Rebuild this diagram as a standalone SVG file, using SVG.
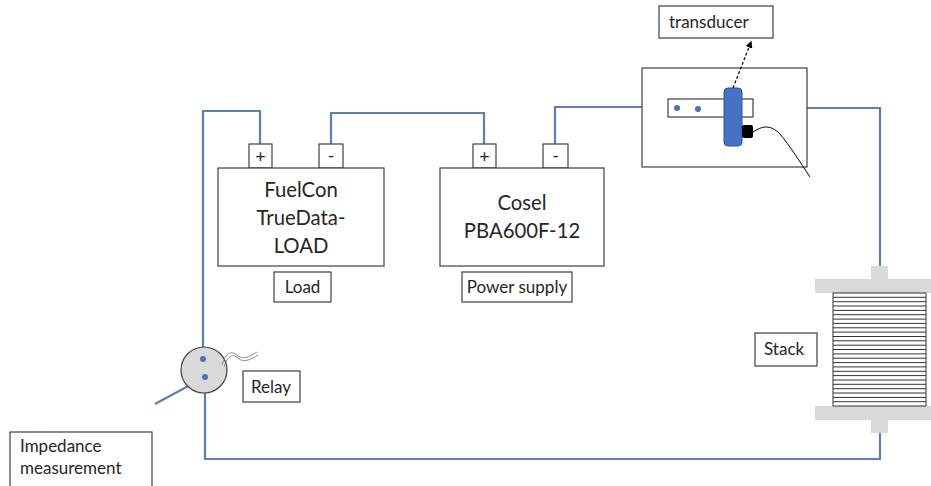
<svg xmlns="http://www.w3.org/2000/svg" width="931" height="486" viewBox="0 0 931 486">
  <style>
    .box { fill: #ffffff; stroke: #404040; stroke-width: 1.2; }
    .wire { fill: none; stroke: #5b80b8; stroke-width: 2.2; }
    .txt { font-family: Lato, "Liberation Sans", sans-serif; fill: #262626; }
    .big { font-size: 20.3px; text-anchor: middle; }
    .term { font-size: 18px; text-anchor: middle; }
    .lbl { font-size: 17px; text-anchor: middle; }
    .lbl-l { font-size: 17px; }
    .plate { fill: #d9d9d9; }
    .cell { stroke: #333333; stroke-width: 1; }
  </style>
  <defs>
    <marker id="arrow" viewBox="0 0 10 10" refX="8" refY="5" markerWidth="6" markerHeight="6" orient="auto">
      <path d="M0,0 L10,5 L0,10 z" fill="#000"/>
    </marker>
  </defs>
  <rect width="931" height="486" fill="#ffffff"/>

  <!-- connectors -->
  <g id="connectors">
    <path class="wire" d="M260,144 V111 H203 V359"/>
    <path class="wire" d="M331,144 V113 H484 V144"/>
    <path class="wire" d="M555,144 V107 H668"/>
    <path class="wire" d="M753,108 H880 V266"/>
    <path class="wire" d="M880,433 V459 H205 V377"/>
    <path class="wire" d="M205,377 L155,404"/>
  </g>

  <!-- electronic load -->
  <g id="load">
    <rect class="box" x="249" y="144" width="23" height="24"/>
    <rect class="box" x="319" y="144" width="24" height="24"/>
    <text class="txt term" x="260.5" y="163">+</text>
    <text class="txt term" x="331" y="162">-</text>
    <rect class="box" x="218" y="168" width="166" height="98"/>
    <text class="txt big" x="301" y="197">FuelCon</text>
    <text class="txt big" x="301" y="225">TrueData-</text>
    <text class="txt big" x="301" y="253">LOAD</text>
  </g>
  <g id="load-label">
    <rect class="box" x="274" y="272" width="57" height="30"/>
    <text class="txt lbl" x="302.5" y="293">Load</text>
  </g>

  <!-- power supply -->
  <g id="power-supply">
    <rect class="box" x="473" y="144" width="23" height="24"/>
    <rect class="box" x="543" y="144" width="25" height="24"/>
    <text class="txt term" x="484.5" y="163">+</text>
    <text class="txt term" x="555.5" y="162">-</text>
    <rect class="box" x="440" y="168" width="164" height="98"/>
    <text class="txt big" x="522" y="210">Cosel</text>
    <text class="txt big" x="522" y="238">PBA600F-12</text>
  </g>
  <g id="power-supply-label">
    <rect class="box" x="462" y="272" width="110" height="30"/>
    <text class="txt lbl" x="517" y="293">Power supply</text>
  </g>

  <!-- current transducer -->
  <g id="transducer">
    <rect class="box" x="642" y="68" width="165" height="99"/>
    <rect class="box" x="668" y="99" width="85" height="18"/>
    <circle cx="677" cy="108" r="3" fill="#4a72b8"/>
    <circle cx="698" cy="109" r="3" fill="#4a72b8"/>
    <rect x="724" y="88" width="18" height="58" rx="4" fill="#4472c4" stroke="#2f5597" stroke-width="1"/>
    <rect x="742" y="125" width="11" height="13" rx="2" fill="#000000"/>
    <path d="M753,132 C762,126 770,124 780,134 C790,146 800,162 810,177" fill="none" stroke="#000" stroke-width="1"/>
    <path d="M733,88 L751,42" fill="none" stroke="#000" stroke-width="1.2" stroke-dasharray="3,2" marker-end="url(#arrow)"/>
  </g>
  <g id="transducer-label">
    <rect class="box" x="659" y="6" width="114" height="32"/>
    <text class="txt lbl-l" x="669" y="28">transducer</text>
  </g>

  <!-- fuel cell stack -->
  <g id="stack">
    <rect class="plate" x="871" y="266" width="17" height="14"/>
    <rect class="plate" x="815" y="279" width="116" height="14"/>
    <rect class="plate" x="815" y="406" width="116" height="14"/>
    <rect class="plate" x="871" y="419" width="17" height="14"/>
    <rect x="833" y="293" width="93" height="113" fill="#ffffff" stroke="#333" stroke-width="1"/>
    <g class="cell">
      <line x1="833" y1="297.3" x2="926" y2="297.3"/>
      <line x1="833" y1="301.7" x2="926" y2="301.7"/>
      <line x1="833" y1="306" x2="926" y2="306"/>
      <line x1="833" y1="310.4" x2="926" y2="310.4"/>
      <line x1="833" y1="314.7" x2="926" y2="314.7"/>
      <line x1="833" y1="319.1" x2="926" y2="319.1"/>
      <line x1="833" y1="323.4" x2="926" y2="323.4"/>
      <line x1="833" y1="327.8" x2="926" y2="327.8"/>
      <line x1="833" y1="332.1" x2="926" y2="332.1"/>
      <line x1="833" y1="336.5" x2="926" y2="336.5"/>
      <line x1="833" y1="340.8" x2="926" y2="340.8"/>
      <line x1="833" y1="345.2" x2="926" y2="345.2"/>
      <line x1="833" y1="349.5" x2="926" y2="349.5"/>
      <line x1="833" y1="353.9" x2="926" y2="353.9"/>
      <line x1="833" y1="358.2" x2="926" y2="358.2"/>
      <line x1="833" y1="362.6" x2="926" y2="362.6"/>
      <line x1="833" y1="366.9" x2="926" y2="366.9"/>
      <line x1="833" y1="371.3" x2="926" y2="371.3"/>
      <line x1="833" y1="375.6" x2="926" y2="375.6"/>
      <line x1="833" y1="380" x2="926" y2="380"/>
      <line x1="833" y1="384.3" x2="926" y2="384.3"/>
      <line x1="833" y1="388.7" x2="926" y2="388.7"/>
      <line x1="833" y1="393" x2="926" y2="393"/>
      <line x1="833" y1="397.4" x2="926" y2="397.4"/>
      <line x1="833" y1="401.7" x2="926" y2="401.7"/>
    </g>
  </g>
  <g id="stack-label">
    <rect class="box" x="755" y="333" width="62" height="33"/>
    <text class="txt lbl-l" x="764" y="355">Stack</text>
  </g>

  <!-- relay -->
  <g id="relay">
    <circle cx="204" cy="370" r="23" fill="#d9d9d9" stroke="#404040" stroke-width="1.2"/>
    <circle cx="203" cy="359" r="3" fill="#4a72b8"/>
    <circle cx="205" cy="377" r="3" fill="#4a72b8"/>
    <path d="M222,365 C226,352 232,350 238,356 C244,360 250,356 257,352" fill="none" stroke="#8c8c8c" stroke-width="1"/>
    <path d="M224,367 C228,355 233,353 239,359 C245,363 251,359 258,355" fill="none" stroke="#8c8c8c" stroke-width="1"/>
  </g>
  <g id="relay-label">
    <rect class="box" x="243" y="371" width="57" height="31"/>
    <text class="txt lbl-l" x="251" y="393">Relay</text>
  </g>

  <!-- impedance measurement -->
  <g id="impedance">
    <rect class="box" x="10" y="432" width="142" height="60"/>
    <text class="txt lbl-l" x="20" y="452">Impedance</text>
    <text class="txt lbl-l" x="20" y="474">measurement</text>
  </g>
</svg>
